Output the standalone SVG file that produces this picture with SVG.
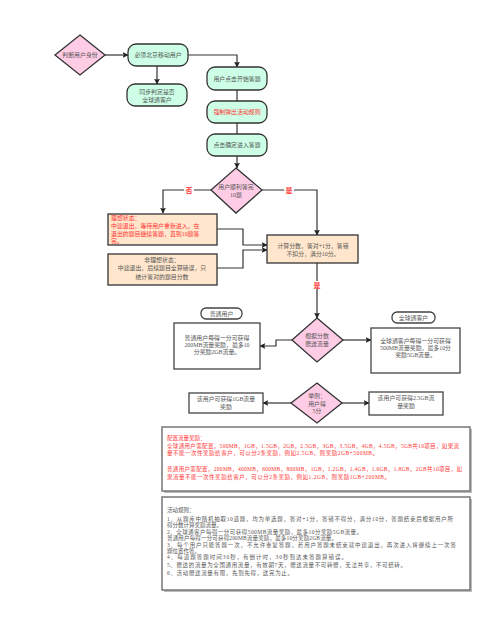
<svg xmlns="http://www.w3.org/2000/svg" width="500" height="629" viewBox="0 0 500 629">
<defs>
<marker id="ah" viewBox="0 0 10 10" refX="9" refY="5" markerWidth="6" markerHeight="6" orient="auto" markerUnits="userSpaceOnUse"><path d="M0,0 L10,5 L0,10 L2,5 z" fill="#222"/></marker>
<style>
text{font-family:"Liberation Serif","Noto Sans CJK SC",serif;font-size:5.9px;fill:#555;text-anchor:middle}
.red{fill:#f33}
.lt{text-anchor:start}
.sm{font-size:5.5px}
.dia{fill:#ffcce6;stroke:#333;stroke-width:1.3}
.rr{fill:#ccffe6;stroke:#333;stroke-width:1.3}
.or{fill:#ffe6cc;stroke:#333;stroke-width:1.3}
.wb{fill:#fff;stroke:#444;stroke-width:1.3}
.big{fill:#fff;stroke:#777;stroke-width:1.5}
.sh{fill:#bbb}
.c{fill:none;stroke:#333;stroke-width:1.2}
.lbl{font-size:7px;font-weight:bold}
</style>
</defs>
<rect width="500" height="629" fill="#fff"/>
<g id="connectors">
<path class="c" d="M105,55 H128" marker-end="url(#ah)"/>
<path class="c" d="M157,66 V84" marker-end="url(#ah)"/>
<path class="c" d="M188,55 H237 V67" marker-end="url(#ah)"/>
<path class="c" d="M237,90 V101"/>
<path class="c" d="M237,123 V134"/>
<path class="c" d="M237,156 V168" marker-end="url(#ah)"/>
<path class="c" d="M211,190 H163 V213" marker-end="url(#ah)"/>
<path class="c" d="M262,190 H317 V235" marker-end="url(#ah)"/>
<path class="c" d="M217,229 H243 V245 H267" marker-end="url(#ah)"/>
<path class="c" d="M217,268 H243 V250 H267" marker-end="url(#ah)"/>
<path class="c" d="M317,263 V318" marker-end="url(#ah)"/>
<path class="c" d="M292,340 H276 V346 H260" marker-end="url(#ah)"/>
<path class="c" d="M343,340 H371" marker-end="url(#ah)"/>
<path class="c" d="M291,403 H263" marker-end="url(#ah)"/>
<path class="c" d="M342,403 H369" marker-end="url(#ah)"/>
<rect x="184" y="186" width="10" height="8" fill="#fff"/>
<text x="189" y="192.5" class="red lbl">否</text>
<rect x="284" y="186" width="10" height="8" fill="#fff"/>
<text x="289" y="192.5" class="red lbl">是</text>
<rect x="312" y="281" width="10" height="8" fill="#fff"/>
<text x="317" y="287.5" class="red lbl">是</text>
</g>
<g id="n-identity"><path class="dia" d="M80,35 L105,55 L80,75 L55,55 z"/><text x="80" y="57">判断用户身份</text></g>
<g id="n-bjmobile"><rect class="rr" x="128" y="44" width="60" height="22" rx="8"/><text x="158" y="57">必须北京移动用户</text></g>
<g id="n-sync"><rect class="rr" x="127" y="84" width="60" height="22" rx="8"/><text x="157" y="93.5">同步判定是否</text><text x="157" y="101.5">全球通客户</text></g>
<g id="n-start"><rect class="rr" x="207" y="67" width="60" height="23" rx="8"/><text x="237" y="80.5">用户点击开始答题</text></g>
<g id="n-rules"><rect class="rr" x="207" y="101" width="60" height="22" rx="8"/><text x="237" y="114" class="red">强制弹出活动规则</text></g>
<g id="n-enter"><rect class="rr" x="207" y="134" width="60" height="22" rx="8"/><text x="237" y="147">点击确定进入答题</text></g>
<g id="n-finish"><path class="dia" d="M236,168 L262,190 L236,213 L211,190 z"/><text x="236" y="188.5">用户顺利答完</text><text x="236" y="196.5">10题</text></g>
<g id="n-ideal"><rect class="or" x="108" y="214" width="109" height="31"/>
<text x="111" y="220" class="red lt">理想状态：</text>
<text x="111" y="228" class="red lt">中途退出，等待用户重新进入，在</text>
<text x="111" y="235.5" class="red lt">退出的题目继续答题，直到10题答</text>
<text x="111" y="243" class="red lt">完。</text></g>
<g id="n-nonideal"><rect class="or" x="108" y="254" width="109" height="31"/>
<text x="162" y="262">非理想状态：</text>
<text x="162" y="270">中途退出，后续题目全算错误，只</text>
<text x="162" y="278.5">统计答对的题目分数</text></g>
<g id="n-score"><rect class="or" x="267" y="235" width="91" height="28"/>
<text x="313" y="248">计算分数，答对+1分，答错</text>
<text x="313" y="255.5">不扣分，满分10分。</text></g>
<g id="n-gift"><path class="dia" d="M317,318 L343,340 L317,362 L292,340 z"/><text x="317" y="337.5">根据分数</text><text x="317" y="345.5">赠送流量</text></g>
<g id="n-normal-tag"><rect class="wb" x="201" y="308" width="41" height="11" rx="5"/><text x="221.5" y="315.5">普通用户</text></g>
<g id="n-normal"><rect class="wb" x="174" y="323" width="86" height="46"/>
<text x="217" y="339.5">普通用户每得一分可获得</text>
<text x="217" y="346.5">200MB流量奖励，最多10</text>
<text x="217" y="353.5">分奖励2GB流量。</text></g>
<g id="n-global-tag"><rect class="wb" x="392" y="312" width="43" height="11" rx="5"/><text x="413.5" y="319.5">全球通客户</text></g>
<g id="n-global"><rect class="wb" x="371" y="328" width="89" height="45"/>
<text x="415.5" y="342.5">全球通客户每得一分可获得</text>
<text x="415.5" y="349.5">500MB流量奖励，最多10分</text>
<text x="415.5" y="357">奖励5GB流量。</text></g>
<g id="n-example"><path class="dia" d="M317,383 L342,403 L317,423 L291,403 z"/><text x="317" y="398">举例：</text><text x="317" y="405.5">用户得</text><text x="317" y="413">5分</text></g>
<g id="n-1gb"><rect class="wb" x="189" y="393" width="74" height="20"/><text x="226" y="401">该用户可获得1GB流量</text><text x="226" y="408.5">奖励</text></g>
<g id="n-25gb"><rect class="wb" x="369" y="392" width="74" height="23"/><text x="406" y="400">该用户可获得2.5GB流</text><text x="406" y="408">量奖励</text></g>
<g id="n-config">
<rect class="sh" x="164" y="429" width="308" height="64"/>
<rect class="big" x="162" y="427" width="308" height="64"/>
<text x="167" y="440" class="red lt sm">配置流量奖励：</text>
<text x="167" y="447.5" class="red lt sm" textLength="292" lengthAdjust="spacing">全球通用户需配置，500MB，1GB，1.5GB，2GB，2.5GB，3GB，3.5GB，4GB，4.5GB，5GB共10项目，如果流</text>
<text x="167" y="455" class="red lt sm" textLength="211" lengthAdjust="spacing">量不能一次性奖励给客户，可以分2条奖励，例如2.5GB，则奖励2GB+500MB。</text>
<text x="167" y="470.5" class="red lt sm" textLength="295" lengthAdjust="spacing">普通用户需配置，200MB，400MB，600MB，800MB，1GB，1.2GB，1.4GB，1.6GB，1.8GB，2GB共10项目，如</text>
<text x="167" y="478.5" class="red lt sm" textLength="223" lengthAdjust="spacing">果流量不能一次性奖励给客户，可以分2条奖励，例如1.2GB，则奖励1GB+200MB。</text>
</g>
<g id="n-rulesbox">
<rect class="sh" x="164" y="499" width="308" height="93"/>
<rect class="big" x="162" y="497" width="308" height="93"/>
<text x="167" y="512" class="lt sm">活动规则：</text>
<text x="167" y="521" class="lt sm" textLength="286" lengthAdjust="spacing">1、从题库中随机抽取10道题，均为单选题，答对+1分，答错不得分，满分10分，答题结束后根据用户所</text>
<text x="167" y="527" class="lt sm">得分数计算奖励流量。</text>
<text x="167" y="533.5" class="lt sm" textLength="195" lengthAdjust="spacing">2、全球通客户每得一分可获得500MB流量奖励，最多10分奖励5GB流量。</text>
<text x="167" y="539.5" class="lt sm" textLength="170" lengthAdjust="spacing">普通用户每得一分可获得200MB流量奖励，最多10分奖励2GB流量。</text>
<text x="167" y="546.5" class="lt sm" textLength="289" lengthAdjust="spacing">3、每个用户只能答题一次，不允许重复答题，若用户答题未结束就中途退出，再次进入将继续上一次答</text>
<text x="167" y="552.5" class="lt sm">题位置作答。</text>
<text x="167" y="559" class="lt sm" textLength="180" lengthAdjust="spacing">4、每道题答题时间30秒，有倒计时，30秒到达未答题算错误。</text>
<text x="167" y="567" class="lt sm" textLength="239" lengthAdjust="spacing">5、赠送的流量为全国通用流量，有效期7天，赠送流量不可转赠，无法共享，不可结转。</text>
<text x="167" y="574.5" class="lt sm" textLength="126" lengthAdjust="spacing">6、活动赠送流量有限，先到先得，送完为止。</text>
</g>
</svg>
